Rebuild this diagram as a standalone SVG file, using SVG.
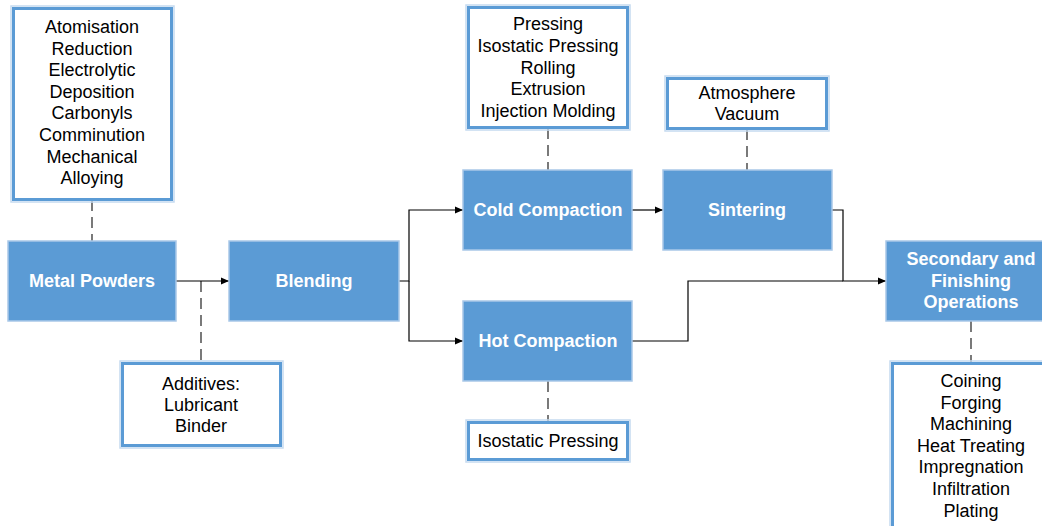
<svg xmlns="http://www.w3.org/2000/svg" width="1042" height="526" viewBox="0 0 1042 526">
<defs>
<marker id="arr" markerWidth="8" markerHeight="8" refX="8" refY="4" orient="auto" markerUnits="userSpaceOnUse">
<path d="M0,0.5 L8,4 L0,7.5 Z" fill="#000"/>
</marker>
<style>
.proc{fill:#5B9BD5;stroke:#A9C8E8;stroke-width:1.5}
.note{fill:#fff;stroke:#5B9BD5;stroke-width:3}
.halo{fill:none;stroke:#C5DAF0;stroke-width:1.5}
.pt{font-family:"Liberation Sans",Arial,sans-serif;font-size:18px;font-weight:bold;fill:#fff;text-anchor:middle}
.nt{font-family:"Liberation Sans",Arial,sans-serif;font-size:18px;fill:#000;text-anchor:middle}
.flow{fill:none;stroke:#000;stroke-width:1.2}
.dash{fill:none;stroke:#222;stroke-width:1.2;stroke-dasharray:11,6}
</style>
</defs>
<rect width="1042" height="526" fill="#fff"/>
<g id="connectors">
<path class="dash" d="M92,200 V241"/>
<path class="dash" d="M201,281 V363"/>
<path class="dash" d="M548,128 V170"/>
<path class="dash" d="M747,129 V170"/>
<path class="dash" d="M548,381 V422"/>
<path class="dash" d="M971,321 V363"/>
<path class="flow" d="M176,281 H229" marker-end="url(#arr)"/>
<path class="flow" d="M399,281 H409 V210 H463" marker-end="url(#arr)"/>
<path class="flow" d="M409,281 V341 H463" marker-end="url(#arr)"/>
<path class="flow" d="M632,210 H663" marker-end="url(#arr)"/>
<path class="flow" d="M832,210 H843 V281 H886" marker-end="url(#arr)"/>
<path class="flow" d="M632,341 H688 V281 H843"/>
</g>
<g id="powder-methods">
<rect class="halo" x="11" y="6" width="163" height="196"/>
<rect class="note" x="13.5" y="8.5" width="158" height="191"/>
<text class="nt" x="92" y="33">Atomisation</text>
<text class="nt" x="92" y="55">Reduction</text>
<text class="nt" x="92" y="76">Electrolytic</text>
<text class="nt" x="92" y="98">Deposition</text>
<text class="nt" x="92" y="119">Carbonyls</text>
<text class="nt" x="92" y="141">Comminution</text>
<text class="nt" x="92" y="163">Mechanical</text>
<text class="nt" x="92" y="184">Alloying</text>
</g>
<g id="metal-powders">
<rect class="proc" x="8" y="241" width="168" height="80"/>
<text class="pt" x="92" y="287">Metal Powders</text>
</g>
<g id="additives">
<rect class="halo" x="120" y="361" width="163" height="87"/>
<rect class="note" x="122.5" y="363.5" width="158" height="82"/>
<text class="nt" x="201" y="390">Additives:</text>
<text class="nt" x="201" y="411">Lubricant</text>
<text class="nt" x="201" y="432">Binder</text>
</g>
<g id="blending">
<rect class="proc" x="229" y="241" width="170" height="80"/>
<text class="pt" x="314" y="287">Blending</text>
</g>
<g id="pressing-methods">
<rect class="halo" x="466" y="5" width="164" height="125"/>
<rect class="note" x="468.5" y="7.5" width="159" height="120"/>
<text class="nt" x="548" y="30">Pressing</text>
<text class="nt" x="548" y="52">Isostatic Pressing</text>
<text class="nt" x="548" y="73.5">Rolling</text>
<text class="nt" x="548" y="95">Extrusion</text>
<text class="nt" x="548" y="116.5">Injection Molding</text>
</g>
<g id="cold-compaction">
<rect class="proc" x="463" y="170" width="169" height="80"/>
<text class="pt" x="548" y="216">Cold Compaction</text>
</g>
<g id="hot-compaction">
<rect class="proc" x="463" y="301" width="169" height="80"/>
<text class="pt" x="548" y="347">Hot Compaction</text>
</g>
<g id="hot-methods">
<rect class="halo" x="466" y="420" width="164" height="42"/>
<rect class="note" x="468.5" y="422.5" width="159" height="37"/>
<text class="nt" x="548" y="447">Isostatic Pressing</text>
</g>
<g id="atmosphere">
<rect class="halo" x="665" y="76" width="164" height="55"/>
<rect class="note" x="667.5" y="78.5" width="159" height="50"/>
<text class="nt" x="747" y="99">Atmosphere</text>
<text class="nt" x="747" y="120">Vacuum</text>
</g>
<g id="sintering">
<rect class="proc" x="663" y="170" width="169" height="80"/>
<text class="pt" x="747" y="216">Sintering</text>
</g>
<g id="secondary">
<rect class="proc" x="886" y="241" width="170" height="80"/>
<text class="pt" x="971" y="265">Secondary and</text>
<text class="pt" x="971" y="287">Finishing</text>
<text class="pt" x="971" y="308">Operations</text>
</g>
<g id="finishing-methods">
<rect class="halo" x="890" y="361" width="164" height="180"/>
<rect class="note" x="892.5" y="363.5" width="159" height="175"/>
<text class="nt" x="971" y="387">Coining</text>
<text class="nt" x="971" y="409">Forging</text>
<text class="nt" x="971" y="430">Machining</text>
<text class="nt" x="971" y="452">Heat Treating</text>
<text class="nt" x="971" y="473">Impregnation</text>
<text class="nt" x="971" y="495">Infiltration</text>
<text class="nt" x="971" y="517">Plating</text>
</g>
</svg>
